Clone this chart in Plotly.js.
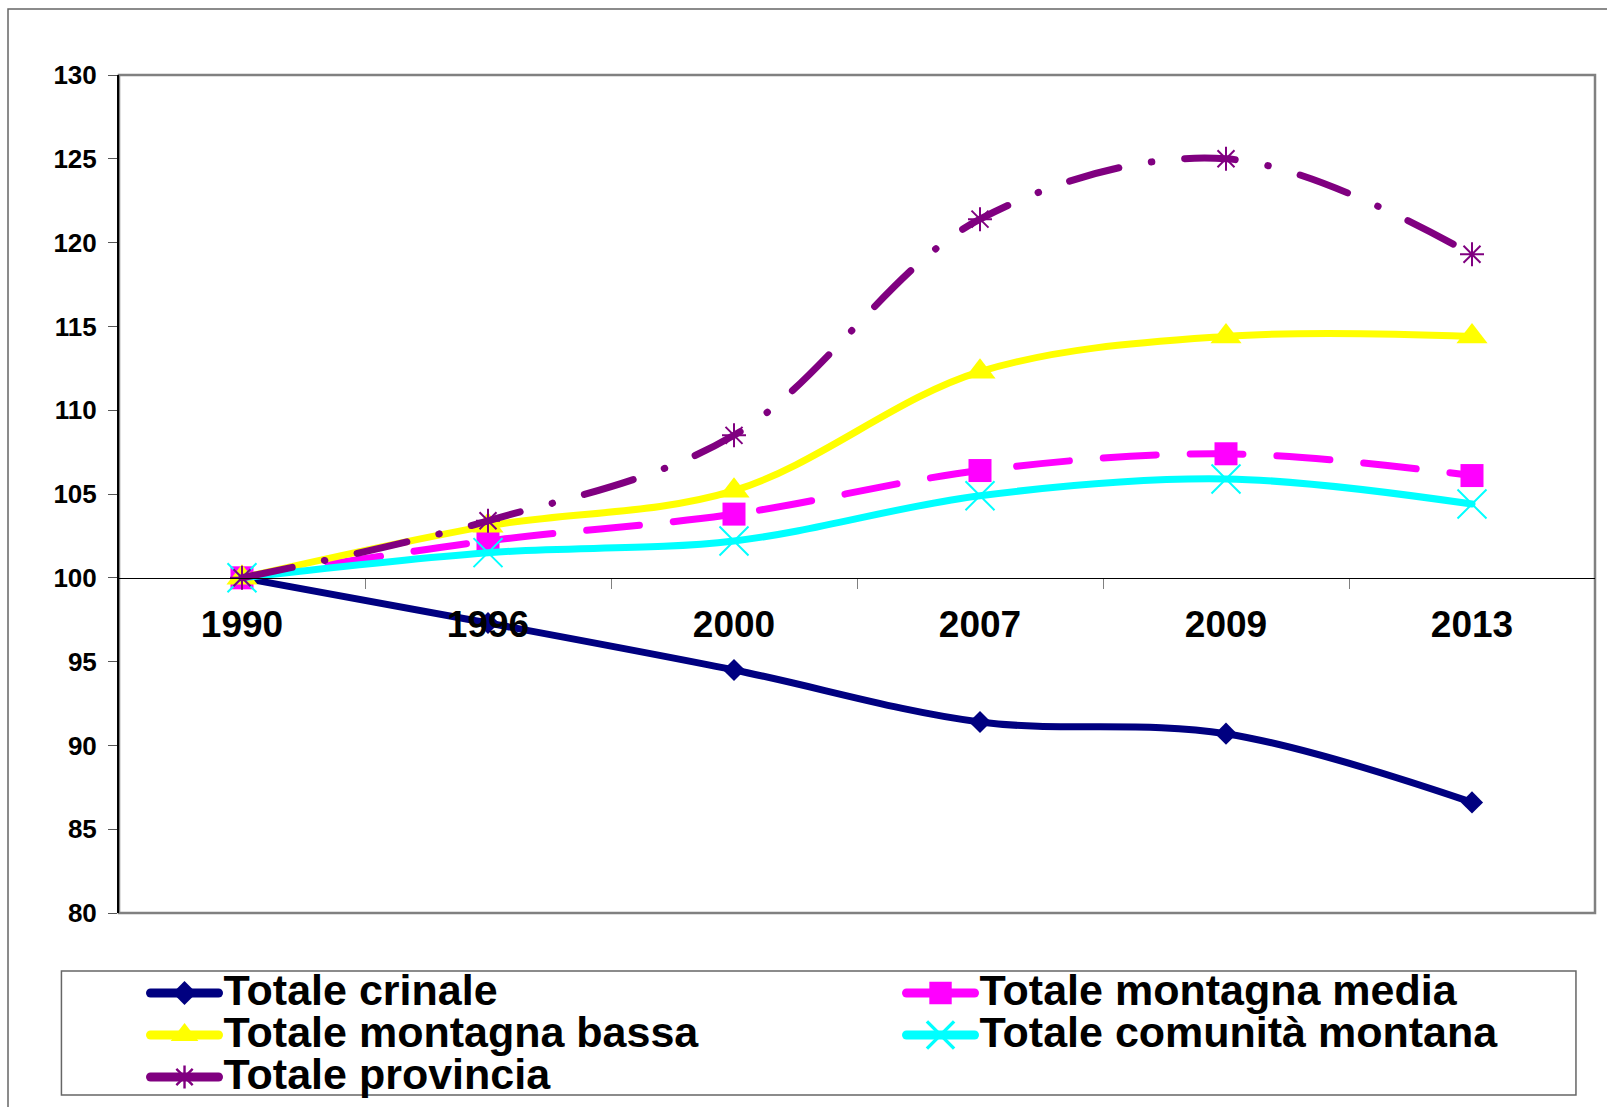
<!DOCTYPE html>
<html>
<head>
<meta charset="utf-8">
<script src="https://cdn.plot.ly/plotly-3.0.1.min.js"></script>
<style>
html,body{margin:0;padding:0;background:#fff;}
#chart{width:1607px;height:1107px;}
path.js-line{stroke-linecap:round;}
.legend path.js-line{stroke-width:9px !important;stroke-dasharray:none !important;}
</style>
</head>
<body>
<div id="chart"></div>
<script>
var years = ['1990', '1996', '2000', '2007', '2009', '2013'];
var crinale = [100, 97.3, 94.5, 91.4, 90.7, 86.6];
var montagnaMedia = [100, 102.2, 103.8, 106.4, 107.4, 106.1];
var montagnaBassa = [100, 103.1, 105.2, 112.3, 114.4, 114.4];
var comunitaMontana = [100, 101.5, 102.2, 104.9, 105.9, 104.4];
var provincia = [100, 103.4, 108.5, 121.4, 125.0, 119.3];
var seriesNames = ['Totale crinale', 'Totale montagna media', 'Totale montagna bassa', 'Totale comunità montana', 'Totale provincia'];
var yTicks = [80, 85, 90, 95, 100, 105, 110, 115, 120, 125, 130];

var FONT = 'Liberation Sans, Arial, sans-serif';
function lbl(s) { return '<span style="font-size:43px">' + s + '</span>'; }

var traces = [
  {x: years, y: crinale, name: lbl(seriesNames[0]), type: 'scatter', mode: 'lines+markers',
   line: {color: '#000080', width: 7, shape: 'spline', smoothing: 1},
   marker: {symbol: 'diamond', size: 17, color: '#000080'}},
  {x: years, y: montagnaMedia, name: lbl(seriesNames[1]), type: 'scatter', mode: 'lines+markers',
   line: {color: '#FF00FF', width: 7, shape: 'spline', smoothing: 1, dash: '53px,34px'},
   marker: {symbol: 'square', size: 23, color: '#FF00FF'}},
  {x: years, y: montagnaBassa, name: lbl(seriesNames[2]), type: 'scatter', mode: 'lines+markers',
   line: {color: '#FFFF00', width: 7, shape: 'spline', smoothing: 1},
   marker: {symbol: 'triangle-up', size: 27, color: '#FFFF00'}},
  {x: years, y: comunitaMontana, name: lbl(seriesNames[3]), type: 'scatter', mode: 'lines+markers',
   line: {color: '#00FFFF', width: 7, shape: 'spline', smoothing: 1},
   marker: {symbol: 'x-thin-open', size: 29, color: '#00FFFF', line: {color: '#00FFFF', width: 2}}},
  {x: years, y: provincia, name: lbl(seriesNames[4]), type: 'scatter', mode: 'lines+markers',
   line: {color: '#800080', width: 7, shape: 'spline', smoothing: 1, dash: '51px,33px,0.5px,33px'},
   marker: {symbol: 'asterisk-open', size: 20, color: '#800080', line: {color: '#800080', width: 2}}}
];

var layout = {
  width: 1607, height: 1107,
  margin: {l: 119, r: 12, t: 75, b: 194, autoexpand: false},
  paper_bgcolor: '#ffffff', plot_bgcolor: '#ffffff',
  font: {family: FONT, color: '#000'},
  showlegend: true,
  xaxis: {
    type: 'category', range: [-0.5, 5.5], anchor: 'free', position: 0.4,
    showgrid: false, zeroline: false, showline: true, linecolor: '#000', linewidth: 1.5,
    ticks: 'outside', tickson: 'boundaries', ticklen: 10, tickcolor: '#808080', tickwidth: 1,
    tickfont: {family: FONT, size: 37, weight: 700, color: '#000'},
    ticklabelstandoff: 13
  },
  yaxis: {
    range: [80, 130], tickvals: yTicks, ticktext: yTicks.map(String),
    showgrid: false, zeroline: false, showline: true, linecolor: '#000', linewidth: 2,
    ticks: 'outside', ticklen: 9, tickcolor: '#555', tickwidth: 1,
    tickfont: {family: FONT, size: 26, weight: 700, color: '#000'},
    ticklabelstandoff: 6
  },
  legend: {
    orientation: 'h', x: -0.001, xanchor: 'left', y: -0.031, yanchor: 'top',
    bgcolor: 'rgba(0,0,0,0)', bordercolor: 'rgba(0,0,0,0)', borderwidth: 28,
    font: {family: FONT, size: 30, weight: 700, color: '#000'},
    itemwidth: 68, entrywidth: 673, entrywidthmode: 'pixels', itemclick: false, itemdoubleclick: false
  },
  shapes: [
    {type: 'rect', xref: 'paper', yref: 'paper', x0: 0, x1: 1, y0: 0, y1: 1, layer: 'below',
     line: {color: '#808080', width: 2.5}},
    {type: 'rect', xref: 'paper', yref: 'paper', x0: -0.039, x1: 0.9871, y0: -0.2172, y1: -0.0692, layer: 'below',
     line: {color: '#666666', width: 1.5}, fillcolor: 'rgba(0,0,0,0)'},
    {type: 'rect', xref: 'paper', yref: 'paper', x0: -0.0752, x1: 1.2, y0: -0.4, y1: 1.0788, layer: 'below',
     line: {color: '#666666', width: 1.5}, fillcolor: 'rgba(0,0,0,0)'}
  ]
};

var legendMarkerScale = [1.15, 1.4, 1.5, 1.7, 1.2];

Plotly.newPlot('chart', traces, layout, {displayModeBar: false, staticPlot: true}).then(function (gd) {
  var items = gd.querySelectorAll('.legend g.traces');
  items.forEach(function (item, i) {
    var s = legendMarkerScale[i] || 1;
    item.querySelectorAll('path.scatterpts').forEach(function (p) {
      var t = p.getAttribute('transform') || '';
      p.setAttribute('transform', t + ' scale(' + s + ')');
    });
  });
});
</script>
</body>
</html>
